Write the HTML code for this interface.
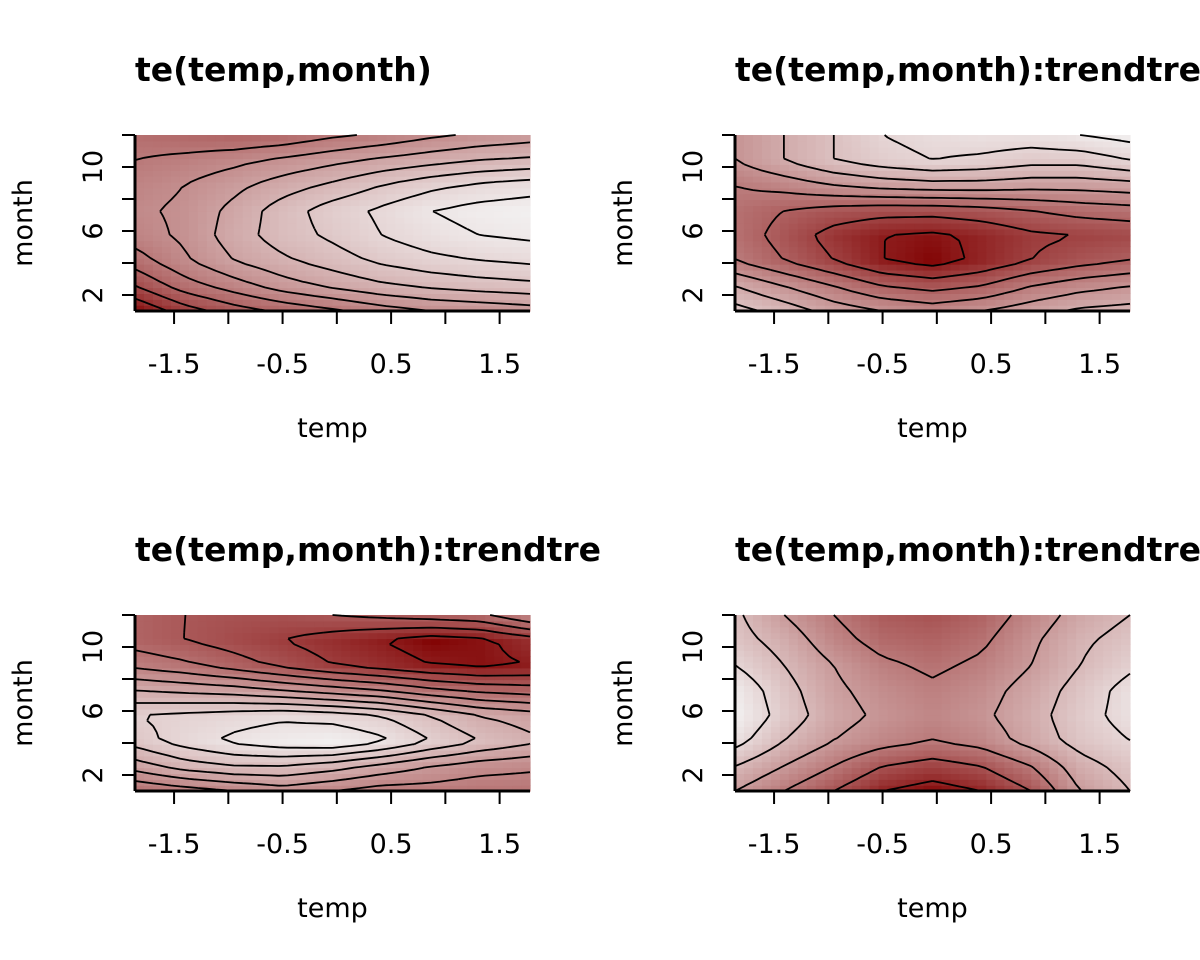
<!DOCTYPE html>
<html><head><meta charset="utf-8"><style>
html,body{margin:0;padding:0;background:#fff;}
svg{display:block;font-family:"DejaVu Sans","Liberation Sans",sans-serif;}
</style></head><body>
<svg id="chart" width="1200" height="960" xmlns="http://www.w3.org/2000/svg"></svg>
<script>
// ---- data ----
const panelTitles = ["te(temp,month)","te(temp,month):trendtrend2","te(temp,month):trendtrend3","te(temp,month):trendtrend4"];
const tempCols = [-1.86,-1.41,-0.95,-0.5,-0.04,0.41,0.87,1.32,1.78];
const monthRows = [1,2.57,4.14,5.71,7.29,8.86,10.43,12];
const xTicks = [-1.5,-1,-0.5,0,0.5,1,1.5];
const xTickLabels = ["-1.5","","-0.5","","0.5","","1.5"];
const yTicks = [2,4,6,8,10,12];
const yTickLabels = ["2","","6","","10",""];
const grid1 = [
[-0.6,-0.45,-0.35,-0.28,-0.22,-0.15,-0.1,-0.08,-0.05],
[-0.4,-0.25,-0.15,-0.05,0.02,0.08,0.12,0.15,0.17],
[-0.25,-0.12,0.0,0.08,0.15,0.22,0.27,0.3,0.32],
[-0.15,-0.08,0.05,0.15,0.22,0.3,0.36,0.4,0.42],
[-0.12,-0.08,0.03,0.15,0.25,0.32,0.4,0.44,0.46],
[-0.15,-0.1,-0.03,0.05,0.12,0.2,0.27,0.32,0.35],
[-0.2,-0.17,-0.13,-0.08,-0.03,0.02,0.06,0.1,0.12],
[-0.25,-0.28,-0.3,-0.28,-0.22,-0.18,-0.12,-0.08,-0.05]];
const grid2 = [
[0.12,0.08,0.03,0.0,-0.02,0.0,0.03,0.06,0.07],
[0.05,0.0,-0.05,-0.1,-0.12,-0.1,-0.05,-0.02,0.0],
[-0.05,-0.1,-0.15,-0.2,-0.22,-0.19,-0.15,-0.12,-0.1],
[-0.07,-0.12,-0.17,-0.2,-0.21,-0.19,-0.16,-0.15,-0.14],
[-0.07,-0.1,-0.12,-0.13,-0.13,-0.12,-0.1,-0.08,-0.07],
[-0.05,-0.03,0.0,0.02,0.03,0.03,0.02,0.02,0.03],
[0.0,0.05,0.1,0.13,0.15,0.14,0.12,0.12,0.15],
[0.0,0.05,0.1,0.15,0.17,0.18,0.18,0.2,0.22]];
const grid3 = [
[-0.2,-0.1,0.0,0.1,0.0,-0.1,-0.1,-0.15,-0.15],
[0.3,0.5,0.6,0.6,0.5,0.35,0.2,0.1,0.05],
[0.7,0.9,1.05,1.15,1.2,1.05,0.8,0.6,0.45],
[0.8,0.85,0.9,0.95,0.9,0.8,0.6,0.4,0.3],
[0.4,0.35,0.3,0.2,0.1,0.0,-0.15,-0.25,-0.3],
[-0.05,-0.15,-0.3,-0.45,-0.6,-0.7,-0.8,-0.85,-0.8],
[-0.3,-0.4,-0.5,-0.6,-0.7,-0.8,-0.9,-0.85,-0.7],
[-0.3,-0.4,-0.45,-0.45,-0.4,-0.35,-0.3,-0.25,0.0]];
const grid4 = [
[0.0,-0.05,-0.1,-0.15,-0.17,-0.15,-0.1,0.0,0.05],
[0.05,0.0,-0.05,-0.1,-0.12,-0.1,-0.05,0.03,0.07],
[0.12,0.05,0.0,-0.03,-0.05,-0.03,0.02,0.07,0.1],
[0.15,0.08,0.02,-0.01,-0.03,-0.01,0.03,0.08,0.12],
[0.14,0.07,0.01,-0.02,-0.04,-0.02,0.02,0.07,0.12],
[0.1,0.05,0.0,-0.04,-0.06,-0.04,0.0,0.05,0.09],
[0.07,0.03,-0.03,-0.07,-0.08,-0.06,-0.01,0.04,0.07],
[0.06,0.0,-0.05,-0.09,-0.1,-0.08,-0.03,0.02,0.05]];
const contourSteps = [0.1,0.05,0.2,0.05];
// ---- drawing ----
const NS="http://www.w3.org/2000/svg";
const svg=document.getElementById('chart');
function mk(tag,attrs,parent){const e=document.createElementNS(NS,tag);for(const k in attrs)e.setAttribute(k,attrs[k]);(parent||svg).appendChild(e);return e;}
const grids=[grid1,grid2,grid3,grid4];
const X0=-1.86,X1=1.78,Y0=1,Y1=12;
function interp(g,t,m){
  let ci=0;while(ci<tempCols.length-2&&t>tempCols[ci+1])ci++;
  let ri=0;while(ri<monthRows.length-2&&m>monthRows[ri+1])ri++;
  const fx=Math.max(0,Math.min(1,(t-tempCols[ci])/(tempCols[ci+1]-tempCols[ci])));
  const fy=Math.max(0,Math.min(1,(m-monthRows[ri])/(monthRows[ri+1]-monthRows[ri])));
  const a=g[ri][ci],b=g[ri][ci+1],c=g[ri+1][ci],d=g[ri+1][ci+1];
  return a*(1-fx)*(1-fy)+b*fx*(1-fy)+c*(1-fx)*fy+d*fx*fy;
}
function colorFor(f){
  const lo=[128,0,0],hi=[242,240,240];
  const c=lo.map((v,i)=>Math.round(v+(hi[i]-v)*Math.pow(f,0.7)));
  return `rgb(${c[0]},${c[1]},${c[2]})`;
}
grids.forEach((g,p)=>{
  const ox=(p%2)*600, oy=Math.floor(p/2)*480;
  const L=ox+135,R=ox+530,T=oy+135,B=oy+311;
  const sx=t=>L+(t-X0)/(X1-X0)*(R-L);
  const sy=m=>B-(m-Y0)/(Y1-Y0)*(B-T);
  const grp=mk('g',{});
  
  
  const clip=mk('clipPath',{id:'clip'+p},grp);
  mk('rect',{x:ox,y:oy,width:603,height:480},clip);
  const title=mk('text',{x:L,y:oy+81,'font-size':33,'font-weight':'bold','clip-path':`url(#clip${p})`},grp);
  title.textContent=panelTitles[p];
  
  
  const NX=44,NY=30;
  let vmin=Infinity,vmax=-Infinity;
  g.forEach(r=>r.forEach(v=>{vmin=Math.min(vmin,v);vmax=Math.max(vmax,v);}));
  const hm=mk('g',{},grp);
  
  
  const vals=[];
  for(let j=0;j<=NY;j++){vals.push([]);for(let i=0;i<=NX;i++){vals[j].push(interp(g,X0+(X1-X0)*i/NX,Y0+(Y1-Y0)*j/NY));}}
  for(let j=0;j<NY;j++)for(let i=0;i<NX;i++){
    const t0=X0+(X1-X0)*i/NX,t1=X0+(X1-X0)*(i+1)/NX;
    const m0=Y0+(Y1-Y0)*j/NY,m1=Y0+(Y1-Y0)*(j+1)/NY;
    const v=interp(g,(t0+t1)/2,(m0+m1)/2);
    const r=mk('rect',{x:sx(t0),y:sy(m1),width:sx(t1)-sx(t0)+0.6,height:sy(m0)-sy(m1)+0.6,fill:colorFor((v-vmin)/(vmax-vmin))},hm);
    
    
  }
  const step=contourSteps[p];
  let d='';
  const px=i=>sx(X0+(X1-X0)*i/NX), py=j=>sy(Y0+(Y1-Y0)*j/NY);
  for(let lv=Math.ceil(vmin/step)*step;lv<vmax;lv+=step){
    for(let j=0;j<NY;j++)for(let i=0;i<NX;i++){
      const c=[[i,j],[i+1,j],[i+1,j+1],[i,j+1]];
      const v=c.map(q=>vals[q[1]][q[0]]);
      const pts=[];
      for(let k=0;k<4;k++){const a=v[k],b=v[(k+1)%4];
        if((a<lv)!==(b<lv)){const f=(lv-a)/(b-a);const A=c[k],Bq=c[(k+1)%4];
          pts.push([px(A[0]+(Bq[0]-A[0])*f),py(A[1]+(Bq[1]-A[1])*f)]);}}
      if(pts.length>=2)d+=`M${pts[0][0].toFixed(1)},${pts[0][1].toFixed(1)}L${pts[1][0].toFixed(1)},${pts[1][1].toFixed(1)}`;
      if(pts.length===4)d+=`M${pts[2][0].toFixed(1)},${pts[2][1].toFixed(1)}L${pts[3][0].toFixed(1)},${pts[3][1].toFixed(1)}`;
    }
  }
  const cl=mk('path',{d:d,stroke:'#000','stroke-width':1.8,fill:'none'},grp);
  
  
  const xa=mk('g',{},grp);
  
  
  mk('line',{x1:L,y1:B,x2:R,y2:B,stroke:'#000','stroke-width':3},xa);
  xTicks.forEach((t,k)=>{
    mk('line',{x1:sx(t),y1:B,x2:sx(t),y2:B+13,stroke:'#000','stroke-width':2},xa);
    if(xTickLabels[k]){const tx=mk('text',{x:sx(t),y:B+62,'font-size':27,'text-anchor':'middle'},xa);tx.textContent=xTickLabels[k];
      }
  });
  const ya=mk('g',{},grp);
  
  
  mk('line',{x1:L,y1:T,x2:L,y2:B,stroke:'#000','stroke-width':3},ya);
  yTicks.forEach((m,k)=>{
    mk('line',{x1:L,y1:sy(m),x2:L-13,y2:sy(m),stroke:'#000','stroke-width':2},ya);
    if(yTickLabels[k]){const tx=mk('text',{x:0,y:0,'font-size':27,'text-anchor':'middle',transform:`translate(${L-33},${sy(m)}) rotate(-90)`},ya);tx.textContent=yTickLabels[k];
      }
  });
  const xt=mk('text',{x:(L+R)/2,y:oy+437,'font-size':27,'text-anchor':'middle'},grp);xt.textContent='temp';
  
  const yt=mk('text',{x:0,y:0,'font-size':27,'text-anchor':'middle',transform:`translate(${ox+32},${(T+B)/2}) rotate(-90)`},grp);yt.textContent='month';
  
});
</script>
</body></html>
